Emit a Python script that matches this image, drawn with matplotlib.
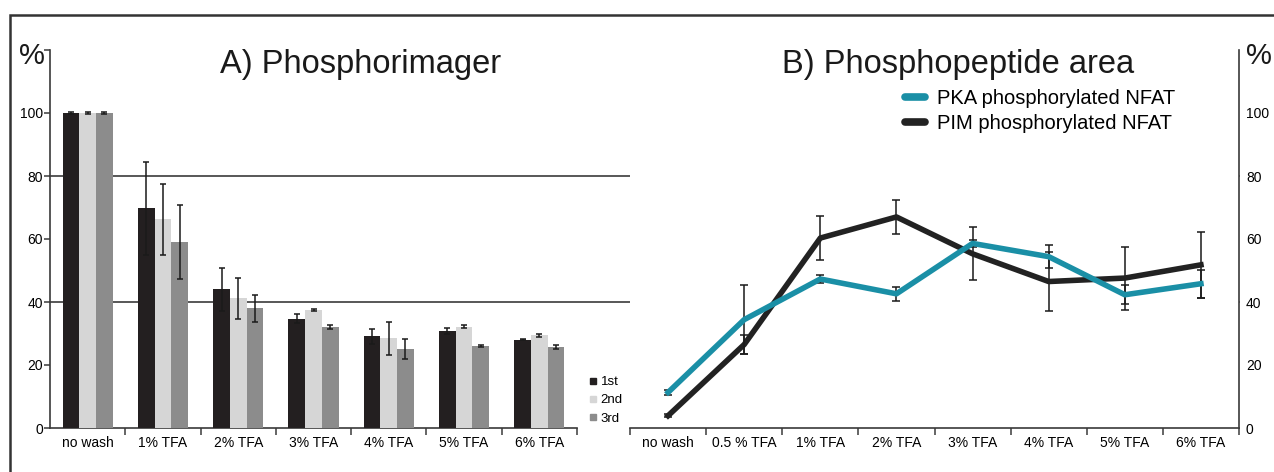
import matplotlib
matplotlib.use("Agg")
import matplotlib.pyplot as plt
import matplotlib.patches as mpatches
from matplotlib.lines import Line2D
import numpy as np

plt.rcParams['font.family'] = ['Liberation Sans', 'DejaVu Sans']

# A) Phosphorimager
bar_cats = ["no wash", "1% TFA", "2% TFA", "3% TFA", "4% TFA", "5% TFA", "6% TFA"]
first = [100, 69.7, 44.0, 34.7, 29.1, 30.8, 28.0]
second = [100, 66.2, 41.2, 37.5, 28.5, 32.2, 29.4]
third = [100, 59.0, 38.0, 32.0, 25.1, 26.0, 25.7]
first_err = [0.3, 14.7, 6.7, 1.5, 2.3, 0.8, 0.2]
second_err = [0.2, 11.2, 6.5, 0.3, 5.3, 0.6, 0.6]
third_err = [0.2, 11.7, 4.2, 0.6, 3.1, 0.2, 0.6]

# B) Phosphopeptide area
line_cats = ["no wash", "0.5 % TFA", "1% TFA", "2% TFA", "3% TFA", "4% TFA", "5% TFA", "6% TFA"]
pka = [11.3, 34.4, 47.3, 42.6, 58.6, 54.4, 42.3, 45.8]
pka_err = [0.8, 10.9, 1.4, 2.3, 1.0, 3.7, 3.0, 4.5]
pim = [3.9, 26.5, 60.3, 67.0, 55.3, 46.5, 47.6, 51.8]
pim_err = [0.4, 3.0, 7.0, 5.5, 8.4, 9.5, 10.0, 10.5]

W, H = 1274, 472
fig = plt.figure(figsize=(W / 100, H / 100), dpi=100)

# frame
fig.patches.append(mpatches.Rectangle((10 / W, -0.1), 1.2, 1 - 15 / H + 0.1,
                                      transform=fig.transFigure, fill=False,
                                      edgecolor='#333333', linewidth=1.8))

bottom = 1 - 428 / H
height = (428 - 50) / H
ax1 = fig.add_axes([50 / W, bottom, 527 / W, height])
ax2 = fig.add_axes([630 / W, bottom, 609 / W, height])

spine_col = '#3a3a3a'
dark, light, grey = '#231f20', '#d6d6d6', '#8c8c8c'
cyan = '#1a8fa6'

# bars
x = np.arange(len(bar_cats)) + 0.5
bw = 0.222
ekw = dict(ecolor='#1a1a1a', elinewidth=1.1, capsize=2.5, capthick=1.1)
ax1.bar(x - bw, first, bw, color=dark, yerr=first_err, error_kw=ekw, label='1st', zorder=3)
ax1.bar(x, second, bw, color=light, yerr=second_err, error_kw=ekw, label='2nd', zorder=3)
ax1.bar(x + bw, third, bw, color=grey, yerr=third_err, error_kw=ekw, label='3rd', zorder=3)
ax1.set_xlim(0, len(bar_cats))
ax1.set_ylim(0, 120)
ax1.set_yticks([0, 20, 40, 60, 80, 100, 120])
ax1.set_yticklabels(['0', '20', '40', '60', '80', '100', ''])
ax1.set_xticks(x)
ax1.set_xticklabels(bar_cats)
ax1.set_xticks(np.arange(1, len(bar_cats) + 1), minor=True)
ax1.tick_params(axis='x', which='major', length=0, pad=6, labelsize=10)
ax1.tick_params(axis='x', which='minor', length=5, color=spine_col, width=1.1)
ax1.tick_params(axis='y', length=4, color=spine_col, width=1.1, pad=1, labelsize=10)
for s in ['top', 'right']:
    ax1.spines[s].set_visible(False)
for s in ['left', 'bottom']:
    ax1.spines[s].set_color(spine_col)
    ax1.spines[s].set_linewidth(1.2)

# gridlines spanning both panels
span = (1239 - 50) / 527
for yv in [40, 80]:
    ax1.axhline(yv, xmin=0, xmax=span, color='#2a2a2a', linewidth=1.1,
                clip_on=False, zorder=1)

ax1.legend(handles=[Line2D([], [], marker='s', ls='', color=c, markersize=5, label=l)
                    for c, l in [(dark, '1st'), (light, '2nd'), (grey, '3rd')]],
           loc='upper left', bbox_to_anchor=(590 / W, 1 - 376 / H),
           bbox_transform=fig.transFigure, frameon=False, fontsize=9.5,
           handlelength=0.5, handletextpad=0.3, labelspacing=0.45,
           borderpad=0, borderaxespad=0)

ax1.set_title('A) Phosphorimager', fontsize=23.5, x=(361 - 50) / 527, y=0.94,
              va='center', color='#1a1a1a')

# lines
xl = np.arange(len(line_cats)) + 0.5
ax2.errorbar(xl, pim, yerr=pim_err, color='#222222', linewidth=4, ecolor='#1a1a1a',
             elinewidth=1.1, capsize=3, capthick=1.1, label='PIM phosphorylated NFAT', zorder=3)
ax2.errorbar(xl, pka, yerr=pka_err, color=cyan, linewidth=4, ecolor='#1a1a1a',
             elinewidth=1.1, capsize=3, capthick=1.1, label='PKA phosphorylated NFAT', zorder=4)
ax2.set_xlim(0, len(line_cats))
ax2.set_ylim(0, 120)
ax2.yaxis.tick_right()
ax2.set_yticks([0, 20, 40, 60, 80, 100])
ax2.tick_params(axis='y', length=0, pad=5, labelsize=10)
ax2.set_xticks(xl)
ax2.set_xticklabels(line_cats)
ax2.set_xticks(np.arange(0, len(line_cats) + 1), minor=True)
ax2.tick_params(axis='x', which='major', length=0, pad=6, labelsize=10)
ax2.tick_params(axis='x', which='minor', length=5, color=spine_col, width=1.1)
for s in ['top', 'left']:
    ax2.spines[s].set_visible(False)
for s in ['right', 'bottom']:
    ax2.spines[s].set_color(spine_col)
    ax2.spines[s].set_linewidth(1.2)
ax2.set_title('B) Phosphopeptide area', fontsize=23.5, x=(958 - 630) / 609, y=0.94,
              va='center', color='#1a1a1a')

hl = [Line2D([], [], color=cyan, lw=5.5, solid_capstyle='round', label='PKA phosphorylated NFAT'),
      Line2D([], [], color='#222222', lw=5.5, solid_capstyle='round', label='PIM phosphorylated NFAT')]
ax2.legend(handles=hl, loc='upper left', bbox_to_anchor=(905 / W, 1 - 89 / H),
           bbox_transform=fig.transFigure, frameon=False, fontsize=14.5,
           handlelength=1.0, handletextpad=0.6, labelspacing=0.3,
           borderpad=0, borderaxespad=0)

fig.text(32 / W, 1 - 56 / H, '%', fontsize=21, ha='center', va='center', color='#1a1a1a')
fig.text(1259 / W, 1 - 56 / H, '%', fontsize=21, ha='center', va='center', color='#1a1a1a')

fig.savefig('out.png', dpi=100)
